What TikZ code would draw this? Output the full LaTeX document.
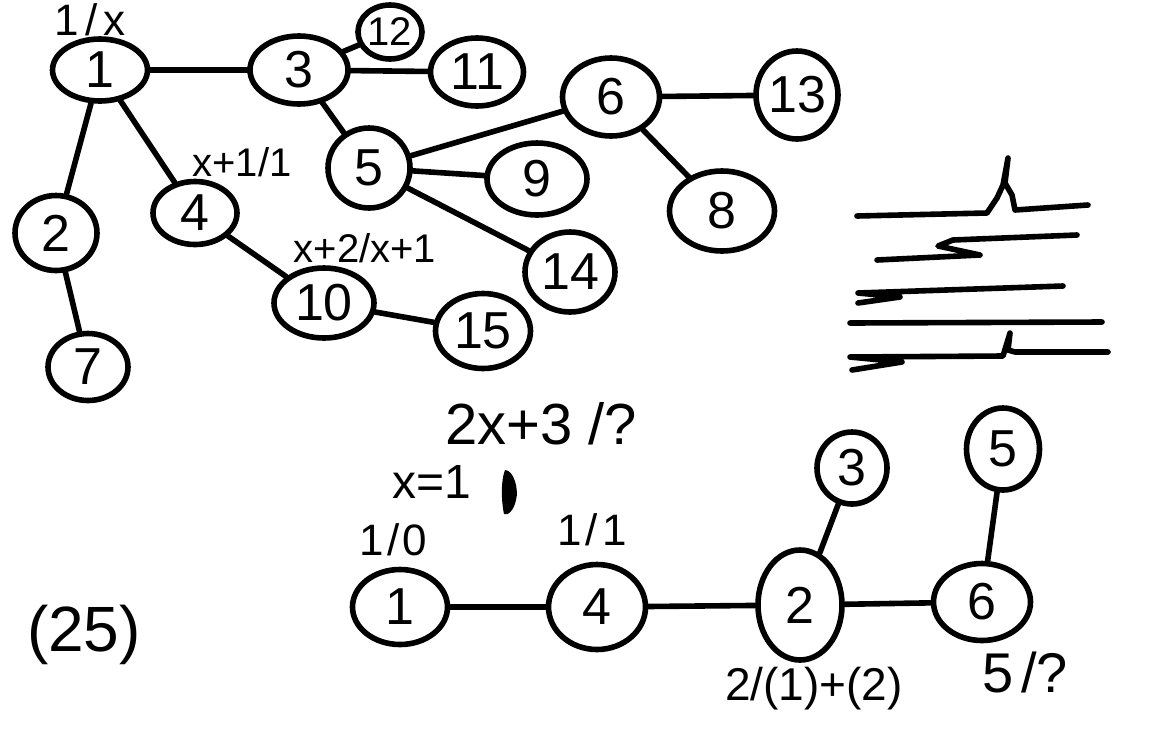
\documentclass[tikz,border=0pt]{standalone}
\usepackage{fontspec}
\setmainfont{Liberation Sans}
\usetikzlibrary{shapes.geometric}
\begin{document}
\begin{tikzpicture}[x=1pt,y=-1pt,
  blob/.style={draw, ellipse, line width=5.6pt, inner sep=0pt, font=\fontsize{52}{52}\selectfont},
  link/.style={line width=5.6pt, line cap=round},
  lab/.style={inner sep=0pt, font=\fontsize{44}{44}\selectfont},
  biglab/.style={inner sep=0pt, font=\fontsize{58}{58}\selectfont},
  scrib/.style={line width=5.6pt, line cap=round, line join=round}]
\useasboundingbox (0,0) rectangle (1164,748);

% ---------- top graph ----------
\node[blob, minimum width=95, minimum height=62] (t1) at (100,70) {1};
\node[blob, minimum width=82, minimum height=75] (t2) at (56,233) {2};
\node[blob, minimum width=80, minimum height=67] (t7) at (88,367) {7};
\node[blob, minimum width=84, minimum height=63] (t4) at (195,213) {4};
\node[blob, minimum width=100, minimum height=70] (t10) at (324,303) {10};
\node[blob, minimum width=95, minimum height=75] (t15) at (483,331) {15};
\node[blob, minimum width=98, minimum height=68] (t3) at (299,70) {3};
\node[blob, minimum width=64, minimum height=54, font=\fontsize{40}{40}\selectfont] (t12) at (390,32) {12};
\node[blob, minimum width=93, minimum height=68] (t11) at (477,72) {11};
\node[blob, minimum width=82, minimum height=80] (t5) at (369,168) {5};
\node[blob, minimum width=100, minimum height=72] (t9) at (537,179) {9};
\node[blob, minimum width=90, minimum height=80] (t14) at (570,272) {14};
\node[blob, minimum width=97, minimum height=78] (t6) at (611,97) {6};
\node[blob, minimum width=82, minimum height=88] (t13) at (797,95) {13};
\node[blob, minimum width=105, minimum height=80] (t8) at (722,211) {8};

\draw[link] (t1) -- (t3);
\draw[link] (t1) -- (t2);
\draw[link] (t1) -- (t4);
\draw[link] (t2) -- (t7);
\draw[link] (t4) -- (t10);
\draw[link] (t10) -- (t15);
\draw[link] (t3) -- (t12);
\draw[link] (t3) -- (t11);
\draw[link] (t3) -- (t5);
\draw[link] (t5) -- (t6);
\draw[link] (t5) -- (t9);
\draw[link] (t5) -- (t14);
\draw[link] (t6) -- (t13);
\draw[link] (t6) -- (t8);

\node[lab] (l1x) at (90,20) {1\hspace{6pt}/\hspace{6pt}x};
\node[lab, font=\fontsize{40}{40}\selectfont] (l4) at (242,162) {x+1/1};
\node[lab, font=\fontsize{40}{40}\selectfont] (l10) at (365,248) {x+2/x+1};

% ---------- scribbled lines on the right ----------
\draw[scrib] (857,216) -- (987,213) -- (997,198) -- (1003,185) -- (1008,158)
  -- (1005,183) -- (1012,195) -- (1015,210) -- (1088,205);
\draw[scrib] (877,260) -- (980,255) -- (938,246) -- (953,240) -- (1077,235);
\draw[scrib] (858,303) -- (900,297) -- (858,293) -- (1063,286);
\draw[scrib] (850,323) -- (1102,322);
\draw[scrib] (852,370) -- (902,362) -- (850,357) -- (1003,356) -- (1010,333)
  -- (1008,350) -- (1015,352) -- (1108,352);

% ---------- bottom notes ----------
\node[biglab] (eq) at (541,424) {2x+3 /?};
\node[lab, font=\fontsize{48}{48}\selectfont] (xe) at (432,482) {x=1};
\fill (505,470) .. controls (514,470) and (519,490) .. (516,500)
  .. controls (514,510) and (508,516) .. (504,514)
  .. controls (501,500) and (501,480) .. (505,470) -- cycle;
\node[lab] (l10b) at (393,540) {1\hspace{4pt}/\hspace{2pt}0};
\node[lab] (l11b) at (592,530) {1\hspace{4pt}/\hspace{4pt}1};
\node[biglab, font=\fontsize{64}{64}\selectfont] (n25) at (84,635) {(25)};

% ---------- bottom graph ----------
\node[blob, minimum width=95, minimum height=75] (b1) at (400,607) {1};
\node[blob, minimum width=97, minimum height=85] (b4) at (597,607) {4};
\node[blob, minimum width=84, minimum height=110] (b2) at (800,605) {2};
\node[blob, minimum width=70, minimum height=72] (b3) at (852,468) {3};
\node[blob, minimum width=73, minimum height=82] (b5) at (1003,449) {5};
\node[blob, minimum width=97, minimum height=77] (b6) at (982,602) {6};

\draw[link] (b1) -- (b4);
\draw[link] (b4) -- (b2);
\draw[link] (b2) -- (b3);
\draw[link] (b2) -- (b6);
\draw[link] (b6) -- (b5);

\node[lab, font=\fontsize{46}{46}\selectfont] (l2b) at (814,689) {2/(1)+(2)};
\node[lab, font=\fontsize{56}{56}\selectfont] (l6b) at (1025,672) {5\hspace{8pt}/?};
\end{tikzpicture}
\end{document}
